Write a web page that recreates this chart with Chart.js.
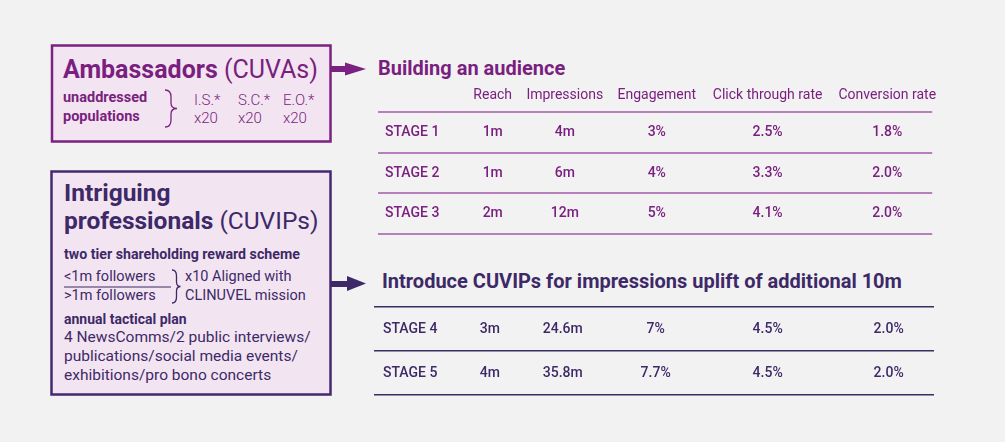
<!DOCTYPE html>
<html>
<head>
<meta charset="utf-8">
<script src="https://cdn.jsdelivr.net/npm/chart.js@4"></script>
<style>
  body { margin: 0; background: #f2f2f2; font-family: Roboto, "Open Sans", sans-serif; }
  #page { position: relative; width: 1005px; height: 442px; overflow: hidden; background: #f2f2f2; }
  .t { position: absolute; white-space: nowrap; line-height: 1; }
  .p1 { color: #7a1f80; }
  .p2 { color: #3e2968; }
  canvas { position: absolute; }
</style>
</head>
<body>
<div id="page">
  <svg width="1005" height="442" style="position:absolute;left:0;top:0">
    <rect x="52" y="45.5" width="278.5" height="96" fill="#f2e5f1" stroke="#7b2181" stroke-width="2.5"/>
    <rect x="51.5" y="171.5" width="279" height="223" fill="#f2e5f1" stroke="#45296f" stroke-width="2.5"/>
    <rect x="331" y="66" width="16" height="6" fill="#7b2181"/>
    <polygon points="345,62.5 366,69 345,75.5" fill="#7b2181"/>
    <rect x="331" y="281" width="18" height="6" fill="#3e2968"/>
    <polygon points="347,276 366,283.5 347,291" fill="#3e2968"/>
    <path d="M165,90 Q171,90 171,97 L171,103 Q171,108.5 177,108.5 Q171,108.5 171,114 L171,120 Q171,127 165,127" fill="none" stroke="#7b2181" stroke-width="1.3"/>
    <path d="M172,270 Q176.5,270 176.5,276 L176.5,282 Q176.5,286.5 180.5,286.5 Q176.5,286.5 176.5,291 L176.5,297 Q176.5,303 172,303" fill="none" stroke="#3e2968" stroke-width="1.3"/>
    <line x1="64" y1="287" x2="171" y2="287" stroke="#3e2968" stroke-width="1"/>
  </svg>

  <div class="t p1" style="left:63px;top:57px;font-size:25px;"><b style="font-weight:700">Ambassadors</b> (CUVAs)</div>
  <div class="t p1" style="left:63px;top:91px;font-size:14.5px;font-weight:700">unaddressed</div>
  <div class="t p1" style="left:63px;top:110px;font-size:14.5px;font-weight:700">populations</div>
  <div class="t p1" style="left:194px;top:92.5px;font-size:15px;font-weight:300">I.S.*</div>
  <div class="t p1" style="left:194px;top:110.5px;font-size:15px;font-weight:300">x20</div>
  <div class="t p1" style="left:238px;top:92.5px;font-size:15px;font-weight:300">S.C.*</div>
  <div class="t p1" style="left:238px;top:110.5px;font-size:15px;font-weight:300">x20</div>
  <div class="t p1" style="left:283px;top:92.5px;font-size:15px;font-weight:300">E.O.*</div>
  <div class="t p1" style="left:283px;top:110.5px;font-size:15px;font-weight:300">x20</div>

  <div class="t p2" style="left:64px;top:181px;font-size:24.5px;font-weight:700">Intriguing</div>
  <div class="t p2" style="left:64px;top:209px;font-size:24.5px;"><b style="font-weight:700">professionals</b> (CUVIPs)</div>
  <div class="t p2" style="left:64px;top:246.5px;font-size:14.2px;font-weight:700">two tier shareholding reward scheme</div>
  <div class="t p2" style="left:64px;top:270px;font-size:14.5px;">&lt;1m followers</div>
  <div class="t p2" style="left:64px;top:289px;font-size:14.5px;">&gt;1m followers</div>
  <div class="t p2" style="left:185px;top:270px;font-size:14.5px;">x10 Aligned with</div>
  <div class="t p2" style="left:185px;top:289px;font-size:14.5px;">CLINUVEL mission</div>
  <div class="t p2" style="left:64px;top:312px;font-size:14px;font-weight:700">annual tactical plan</div>
  <div class="t p2" style="left:64px;top:330px;font-size:15.5px;">4 NewsComms/2 public interviews/</div>
  <div class="t p2" style="left:64px;top:349px;font-size:15.5px;">publications/social media events/</div>
  <div class="t p2" style="left:64px;top:368px;font-size:15.5px;">exhibitions/pro bono concerts</div>

  <div class="t p1" style="left:378px;top:58px;font-size:20px;font-weight:700">Building an audience</div>
  <div class="t p2" style="left:382px;top:271px;font-size:20px;font-weight:700">Introduce CUVIPs for impressions uplift of additional 10m</div>

  <canvas id="table1" width="575" height="160" style="left:370px;top:80px"></canvas>
  <canvas id="table2" width="579" height="100" style="left:366px;top:300px"></canvas>
</div>

<script>
const columns = ['Reach', 'Impressions', 'Engagement', 'Click through rate', 'Conversion rate'];

const stagesA = ['STAGE 1', 'STAGE 2', 'STAGE 3'];
const reachA = [1, 1, 2];
const impressionsA = [4, 6, 12];
const engagementA = [3, 4, 5];
const clickA = [2.5, 3.3, 4.1];
const conversionA = [1.8, 2.0, 2.0];

const stagesB = ['STAGE 4', 'STAGE 5'];
const reachB = [3, 4];
const impressionsB = [24.6, 35.8];
const engagementB = [7, 7.7];
const clickB = [4.5, 4.5];
const conversionB = [2.0, 2.0];

// where each column sits across the table, in percent of its width
const colPos = [20.7, 33.7, 50.3, 70.3, 91.9];

const fmt = [
    v => v + 'm',
    v => v + 'm',
    v => v + '%',
    v => v.toFixed(1) + '%',
    v => v.toFixed(1) + '%'
];

// writes each cell's text where the library placed its point
const cellText = {
    id: 'cellText',
    afterDatasetsDraw(chart, args, opts) {
        const c = chart.ctx;
        c.save();
        c.font = '500 14px Roboto';
        c.fillStyle = opts.color;
        c.textAlign = 'center';
        c.textBaseline = 'middle';
        chart.data.datasets.forEach((ds, j) => {
            chart.getDatasetMeta(j).data.forEach((pt, i) => {
                c.fillText(fmt[j](ds.data[i].v), pt.x, pt.y);
            });
        });
        c.restore();
    }
};

function makeTable(id, stages, cols, color, lineColor, lineWidth, showHeader, pad, labelPad) {
    const datasets = cols.map((vals, j) => ({
        label: columns[j],
        data: vals.map((v, i) => ({ x: colPos[j], y: stages[i], v: v })),
        pointRadius: 0,
        showLine: false
    }));
    return new Chart(document.getElementById(id), {
        type: 'scatter',
        data: { datasets: datasets },
        options: {
            responsive: false,
            animation: false,
            layout: { padding: pad },
            plugins: {
                legend: { display: false },
                tooltip: { enabled: false },
                cellText: { color: color }
            },
            scales: {
                x: {
                    type: 'linear',
                    position: 'top',
                    min: 0,
                    max: 100,
                    display: showHeader,
                    grid: { display: false, drawTicks: false },
                    border: { display: false },
                    afterBuildTicks: s => { s.ticks = colPos.map(v => ({ value: v })); },
                    afterFit: s => { if (showHeader) s.height = 32; },
                    ticks: {
                        autoSkip: false,
                        maxRotation: 0,
                        padding: 8,
                        color: color,
                        font: { family: 'Roboto', size: 14 },
                        callback: (v, i) => columns[i]
                    }
                },
                y: {
                    type: 'category',
                    labels: stages,
                    offset: true,
                    afterFit: s => { s.width = 0; s.paddingTop = 0; s.paddingBottom = 0; },
                    grid: { offset: true, color: lineColor, lineWidth: lineWidth, drawTicks: false },
                    border: { display: false },
                    ticks: {
                        mirror: true,
                        padding: labelPad,
                        color: color,
                        font: { family: 'Roboto', size: 14, weight: '500' }
                    }
                }
            }
        },
        plugins: [cellText]
    });
}

makeTable('table1', stagesA, [reachA, impressionsA, engagementA, clickA, conversionA],
    '#7a1f80', '#b77fbb', 2, true, { left: 8, right: 11, top: 0, bottom: 6 }, 7);
makeTable('table2', stagesB, [reachB, impressionsB, engagementB, clickB, conversionB],
    '#3e2968', '#3b2c66', 1.6, false, { left: 8, right: 11, top: 7, bottom: 5 }, 9);
</script>
</body>
</html>
